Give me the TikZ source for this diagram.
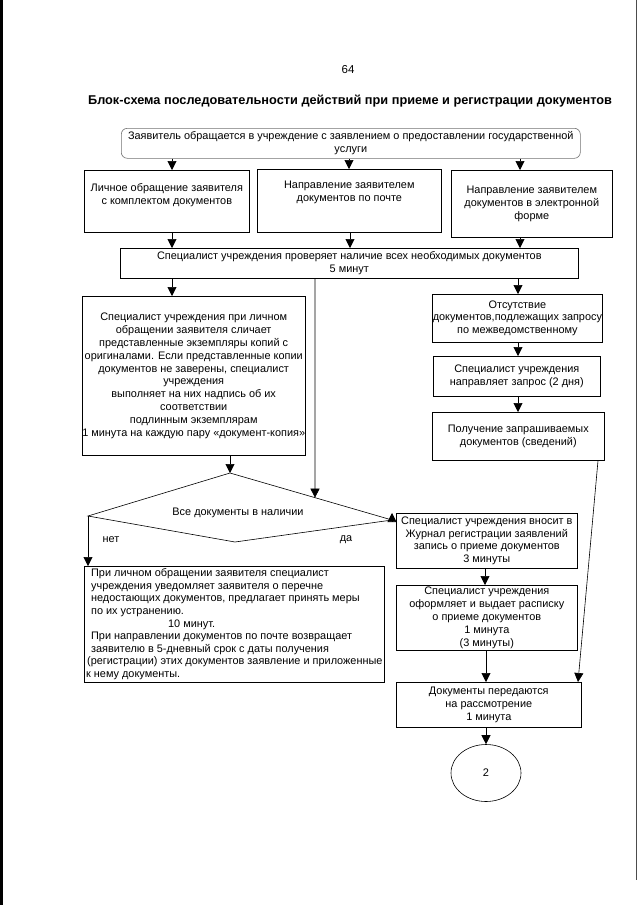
\documentclass[tikz,border=0pt]{standalone}
\usepackage{fontspec}
\setmainfont{Liberation Sans}
\usetikzlibrary{arrows.meta,calc,shapes.geometric}
\begin{document}
\begin{tikzpicture}[x=1pt,y=-1pt,
  box/.style={draw, line width=0.6pt, inner xsep=0.5pt, inner ysep=1pt, align=center, anchor=north west,
    font=\fontsize{10.9}{12.8}\selectfont},
  txt/.style={inner sep=1pt, align=center, font=\fontsize{10.9}{12.8}\selectfont},
  arr/.style={line width=0.6pt, -{Triangle[width=9pt,length=9pt]}},
  ln/.style={line width=0.6pt}]
\useasboundingbox (0,0) rectangle (640,905);
\fill[white] (0,0) rectangle (640,905);
% scan edges
\fill[black] (0,0) rectangle (2.5,905);
\draw[line width=0.8pt, black!70] (636,0) -- (636,880);

\node[font=\fontsize{11.5}{13}\selectfont] (pg) at (348,70) {64};
\node[font=\bfseries\fontsize{12.75}{15}\selectfont] (title) at (350,101)
  {Блок-схема последовательности действий при приеме и регистрации документов};

% x helper coordinates
\foreach \xx in {172,230,315,349,350,485,486,518,520,578,598}
  {\coordinate (x\xx) at (\xx,0);}

\node[box, draw=black!55, rounded corners=6pt, minimum width=459pt, minimum height=30pt] (top) at (121,128)
  {Заявитель обращается в учреждение с заявлением о предоставлении государственной\\услуги};

\node[box, minimum width=165pt, minimum height=62pt] (b1) at (84,170) {};
\node[txt, anchor=north] (b1t) at ($(b1.north)+(0,12.5)$) {Личное обращение заявителя\\с комплектом документов};
\node[box, minimum width=184pt, minimum height=63pt] (b2) at (257,169) {};
\node[txt, anchor=north] (b2t) at ($(b2.north)+(0,10.5)$) {Направление заявителем\\документов по почте};
\node[box, minimum width=161pt, minimum height=67pt] (b3) at (451,170)
  {Направление заявителем\\документов в электронной\\форме};

\node[box, minimum width=458pt, minimum height=30pt] (chk) at (120,248)
  {Специалист учреждения проверяет наличие всех необходимых документов\\5 минут};

\node[box, inner xsep=0pt, minimum width=221pt, minimum height=159pt] (lbig) at (82,296)
  {Специалист учреждения при личном\\обращении заявителя сличает\\представленные экземпляры копий с\\оригиналами. Если представленные копии\\документов не заверены, специалист\\учреждения\\выполняет на них надпись об их\\соответствии\\подлинным экземплярам\\1 минута на каждую пару «документ-копия»};

\node[box, minimum width=169pt, minimum height=48pt] (r1) at (432,294)
  {Отсутствие\\документов,подлежащих запросу\\по межведомственному};
\node[box, minimum width=167pt, minimum height=40pt] (r2) at (433,356)
  {Специалист учреждения\\направляет запрос (2 дня)};
\node[box, minimum width=172pt, minimum height=48pt] (r3) at (432,412)
  {Получение запрашиваемых\\документов (сведений)};

% diamond
\coordinate (dtop) at (230,473);
\coordinate (dleft) at (88,516);
\coordinate (dbot) at (235,542);
\coordinate (dright) at (392,520);
\draw[ln] (dtop) -- (dright) -- (dbot) -- (dleft) -- cycle;
\node[txt] (dtxt) at (238,513) {Все документы в наличии};
\coordinate (dedge) at ($(dtop)!{(315-230)/162}!(dright)$);

\node[txt] (net) at (111,540) {нет};
\node[txt] (da) at (346,540) {да};

\node[box, minimum width=181pt, minimum height=55pt] (jour) at (396,513)
  {Специалист учреждения вносит в\\Журнал регистрации заявлений\\запись о приеме документов\\3 минуты};
\node[box, minimum width=181pt, minimum height=65pt] (rec) at (396,585)
  {Специалист учреждения\\оформляет и выдает расписку\\о приеме документов\\1 минута\\(3 минуты)};
\node[box, minimum width=185pt, minimum height=45pt] (docs) at (396,682)
  {Документы передаются\\на рассмотрение\\1 минута};

\node[box, align=left, inner xsep=0pt, minimum width=300pt, minimum height=116pt,
  font=\fontsize{10.9}{12.6}\selectfont] (lbot) at (84,566)
  {\hspace*{5pt}При личном обращении заявителя специалист\\\hspace*{5pt}учреждения уведомляет заявителя о перечне\\\hspace*{5pt}недостающих документов, предлагает принять меры\\\hspace*{5pt}по их устранению.\\\hspace*{82pt}10 минут.\\\hspace*{5pt}При направлении документов по почте возвращает\\\hspace*{5pt}заявителю в 5-дневный срок с даты получения\\\hspace*{1pt}(регистрации) этих документов заявление и приложенные\\к нему документы.};

\node[draw, line width=0.6pt, ellipse, minimum width=70pt, minimum height=57pt,
  font=\fontsize{11}{12}\selectfont] (circ) at (486,773) {2};

% connectors
\draw[arr] (x172 |- top.south) -- (x172 |- b1.north);
\draw[arr] (x349 |- top.south) -- (x349 |- b2.north);
\draw[arr] (x520 |- top.south) -- (x520 |- b3.north);
\draw[arr] (x172 |- b1.south) -- (x172 |- chk.north);
\draw[arr] (x350 |- b2.south) -- (x350 |- chk.north);
\draw[arr] (x520 |- b3.south) -- (x520 |- chk.north);
\draw[arr] (x172 |- chk.south) -- (x172 |- lbig.north);
\draw[arr] (x315 |- chk.south) -- (dedge);
\draw[arr] (x518 |- chk.south) -- (x518 |- r1.north);
\draw[arr] (x518 |- r1.south) -- (x518 |- r2.north);
\draw[arr] (x518 |- r2.south) -- (x518 |- r3.north);
\draw[arr] (x230 |- lbig.south) -- (dtop);
\draw[arr] (x598 |- r3.south) -- (x578 |- docs.north);
\draw[arr] (dleft) -- (dleft |- lbot.north);
\draw[arr] (dright) -- (dright |- jour.north);
\draw[arr] (x485 |- jour.south) -- (x485 |- rec.north);
\draw[arr] (x486 |- rec.south) -- (x486 |- docs.north);
\draw[arr] (circ.north |- docs.south) -- (circ.north);
\end{tikzpicture}
\end{document}
